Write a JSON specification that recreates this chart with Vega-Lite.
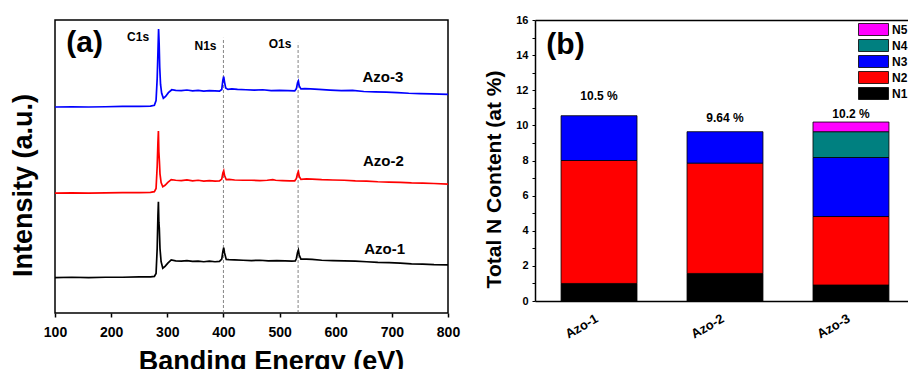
{
  "$schema": "https://vega.github.io/schema/vega-lite/v6.json",
  "padding": {"left": 8, "top": 14, "right": 0, "bottom": 0},
  "spacing": 22,
  "resolve": {"scale": {"color": "independent"}, "legend": {"color": "independent"}},
  "config": {
    "font": "Liberation Sans",
    "view": {"stroke": null},
    "axis": {"grid": false, "labelFontWeight": "bold", "titleFontWeight": "bold", "labelColor": "black", "titleColor": "black", "domainColor": "black", "tickColor": "black"}
  },
  "datasets": {
    "spectra": [
      {"e":100,"v":70.3,"s":"Azo-3"},{"e":130,"v":70.4,"s":"Azo-3"},{"e":160,"v":70.3,"s":"Azo-3"},{"e":190,"v":70.4,"s":"Azo-3"},{"e":220,"v":70.5,"s":"Azo-3"},{"e":250,"v":70.5,"s":"Azo-3"},{"e":270,"v":70.6,"s":"Azo-3"},{"e":277,"v":70.9,"s":"Azo-3"},{"e":280,"v":72.5,"s":"Azo-3"},{"e":282,"v":80,"s":"Azo-3"},{"e":283.5,"v":90,"s":"Azo-3"},{"e":284.5,"v":96.9,"s":"Azo-3"},{"e":285.5,"v":92,"s":"Azo-3"},{"e":286.5,"v":84,"s":"Azo-3"},{"e":288,"v":78,"s":"Azo-3"},{"e":290,"v":75,"s":"Azo-3"},{"e":293,"v":73.3,"s":"Azo-3"},{"e":297,"v":73.9,"s":"Azo-3"},{"e":302,"v":75.2,"s":"Azo-3"},{"e":308,"v":76.2,"s":"Azo-3"},{"e":315,"v":76.0,"s":"Azo-3"},{"e":325,"v":75.9,"s":"Azo-3"},{"e":335,"v":76.1,"s":"Azo-3"},{"e":345,"v":75.8,"s":"Azo-3"},{"e":355,"v":76.0,"s":"Azo-3"},{"e":365,"v":75.7,"s":"Azo-3"},{"e":375,"v":75.9,"s":"Azo-3"},{"e":385,"v":75.8,"s":"Azo-3"},{"e":393,"v":75.7,"s":"Azo-3"},{"e":397,"v":76.3,"s":"Azo-3"},{"e":399,"v":79.5,"s":"Azo-3"},{"e":400.5,"v":80.7,"s":"Azo-3"},{"e":402,"v":78.8,"s":"Azo-3"},{"e":404,"v":76.8,"s":"Azo-3"},{"e":408,"v":76.3,"s":"Azo-3"},{"e":415,"v":76.5,"s":"Azo-3"},{"e":425,"v":76.3,"s":"Azo-3"},{"e":440,"v":76.2,"s":"Azo-3"},{"e":455,"v":76.1,"s":"Azo-3"},{"e":470,"v":76.2,"s":"Azo-3"},{"e":485,"v":75.9,"s":"Azo-3"},{"e":500,"v":76.0,"s":"Azo-3"},{"e":515,"v":75.9,"s":"Azo-3"},{"e":527,"v":75.8,"s":"Azo-3"},{"e":530,"v":76.6,"s":"Azo-3"},{"e":532,"v":78.6,"s":"Azo-3"},{"e":533.5,"v":79.2,"s":"Azo-3"},{"e":535,"v":77.5,"s":"Azo-3"},{"e":538,"v":76.5,"s":"Azo-3"},{"e":545,"v":76.6,"s":"Azo-3"},{"e":555,"v":76.5,"s":"Azo-3"},{"e":570,"v":76.3,"s":"Azo-3"},{"e":590,"v":76.1,"s":"Azo-3"},{"e":610,"v":75.9,"s":"Azo-3"},{"e":630,"v":76.0,"s":"Azo-3"},{"e":650,"v":75.6,"s":"Azo-3"},{"e":670,"v":75.5,"s":"Azo-3"},{"e":690,"v":75.4,"s":"Azo-3"},{"e":710,"v":75.2,"s":"Azo-3"},{"e":730,"v":75.0,"s":"Azo-3"},{"e":750,"v":74.9,"s":"Azo-3"},{"e":770,"v":74.8,"s":"Azo-3"},{"e":785,"v":74.7,"s":"Azo-3"},{"e":800,"v":74.6,"s":"Azo-3"},
      {"e":100,"v":40.9,"s":"Azo-2"},{"e":130,"v":41.0,"s":"Azo-2"},{"e":160,"v":40.9,"s":"Azo-2"},{"e":190,"v":41.0,"s":"Azo-2"},{"e":220,"v":41.1,"s":"Azo-2"},{"e":250,"v":41.1,"s":"Azo-2"},{"e":270,"v":41.2,"s":"Azo-2"},{"e":277,"v":41.4,"s":"Azo-2"},{"e":280,"v":42.5,"s":"Azo-2"},{"e":282,"v":50,"s":"Azo-2"},{"e":283.3,"v":58,"s":"Azo-2"},{"e":284.2,"v":62.1,"s":"Azo-2"},{"e":285,"v":55,"s":"Azo-2"},{"e":286,"v":51.6,"s":"Azo-2"},{"e":287,"v":47.5,"s":"Azo-2"},{"e":289,"v":44.5,"s":"Azo-2"},{"e":292,"v":43.1,"s":"Azo-2"},{"e":296,"v":43.6,"s":"Azo-2"},{"e":301,"v":44.6,"s":"Azo-2"},{"e":307,"v":45.5,"s":"Azo-2"},{"e":315,"v":45.3,"s":"Azo-2"},{"e":325,"v":45.2,"s":"Azo-2"},{"e":335,"v":45.4,"s":"Azo-2"},{"e":345,"v":45.1,"s":"Azo-2"},{"e":355,"v":45.3,"s":"Azo-2"},{"e":365,"v":45.0,"s":"Azo-2"},{"e":375,"v":45.2,"s":"Azo-2"},{"e":385,"v":45.0,"s":"Azo-2"},{"e":393,"v":45.1,"s":"Azo-2"},{"e":397,"v":45.7,"s":"Azo-2"},{"e":399,"v":47.8,"s":"Azo-2"},{"e":400.5,"v":48.5,"s":"Azo-2"},{"e":402,"v":46.9,"s":"Azo-2"},{"e":405,"v":45.5,"s":"Azo-2"},{"e":410,"v":45.6,"s":"Azo-2"},{"e":420,"v":45.4,"s":"Azo-2"},{"e":435,"v":45.3,"s":"Azo-2"},{"e":450,"v":45.3,"s":"Azo-2"},{"e":465,"v":45.2,"s":"Azo-2"},{"e":478,"v":45.3,"s":"Azo-2"},{"e":488,"v":45.5,"s":"Azo-2"},{"e":493,"v":45.3,"s":"Azo-2"},{"e":505,"v":45.2,"s":"Azo-2"},{"e":518,"v":45.1,"s":"Azo-2"},{"e":527,"v":45.1,"s":"Azo-2"},{"e":530,"v":45.9,"s":"Azo-2"},{"e":532,"v":47.6,"s":"Azo-2"},{"e":533.5,"v":48.2,"s":"Azo-2"},{"e":535,"v":46.6,"s":"Azo-2"},{"e":538,"v":45.6,"s":"Azo-2"},{"e":548,"v":45.8,"s":"Azo-2"},{"e":558,"v":45.7,"s":"Azo-2"},{"e":575,"v":45.5,"s":"Azo-2"},{"e":595,"v":45.4,"s":"Azo-2"},{"e":615,"v":45.3,"s":"Azo-2"},{"e":635,"v":45.1,"s":"Azo-2"},{"e":655,"v":45.0,"s":"Azo-2"},{"e":675,"v":44.8,"s":"Azo-2"},{"e":695,"v":44.7,"s":"Azo-2"},{"e":715,"v":44.6,"s":"Azo-2"},{"e":735,"v":44.4,"s":"Azo-2"},{"e":755,"v":44.3,"s":"Azo-2"},{"e":775,"v":44.2,"s":"Azo-2"},{"e":800,"v":44.0,"s":"Azo-2"},
      {"e":100,"v":12.1,"s":"Azo-1"},{"e":130,"v":12.2,"s":"Azo-1"},{"e":160,"v":12.1,"s":"Azo-1"},{"e":190,"v":12.2,"s":"Azo-1"},{"e":220,"v":12.2,"s":"Azo-1"},{"e":250,"v":12.3,"s":"Azo-1"},{"e":270,"v":12.3,"s":"Azo-1"},{"e":277,"v":12.5,"s":"Azo-1"},{"e":280,"v":13.5,"s":"Azo-1"},{"e":282,"v":22,"s":"Azo-1"},{"e":283.3,"v":33,"s":"Azo-1"},{"e":284.2,"v":38.0,"s":"Azo-1"},{"e":285,"v":31,"s":"Azo-1"},{"e":285.8,"v":28.9,"s":"Azo-1"},{"e":287,"v":22,"s":"Azo-1"},{"e":289,"v":17.5,"s":"Azo-1"},{"e":292,"v":15.3,"s":"Azo-1"},{"e":296,"v":15.9,"s":"Azo-1"},{"e":301,"v":17.0,"s":"Azo-1"},{"e":307,"v":18.1,"s":"Azo-1"},{"e":315,"v":17.8,"s":"Azo-1"},{"e":325,"v":17.7,"s":"Azo-1"},{"e":335,"v":17.9,"s":"Azo-1"},{"e":345,"v":17.6,"s":"Azo-1"},{"e":355,"v":17.7,"s":"Azo-1"},{"e":365,"v":17.5,"s":"Azo-1"},{"e":375,"v":17.7,"s":"Azo-1"},{"e":385,"v":17.5,"s":"Azo-1"},{"e":393,"v":17.6,"s":"Azo-1"},{"e":397,"v":18.4,"s":"Azo-1"},{"e":399,"v":21.0,"s":"Azo-1"},{"e":400.5,"v":22.3,"s":"Azo-1"},{"e":402,"v":20.5,"s":"Azo-1"},{"e":405,"v":18.3,"s":"Azo-1"},{"e":410,"v":18.2,"s":"Azo-1"},{"e":420,"v":18.1,"s":"Azo-1"},{"e":435,"v":18.0,"s":"Azo-1"},{"e":450,"v":17.9,"s":"Azo-1"},{"e":465,"v":18.0,"s":"Azo-1"},{"e":480,"v":17.8,"s":"Azo-1"},{"e":495,"v":17.9,"s":"Azo-1"},{"e":510,"v":17.8,"s":"Azo-1"},{"e":522,"v":17.7,"s":"Azo-1"},{"e":528,"v":17.8,"s":"Azo-1"},{"e":530,"v":18.6,"s":"Azo-1"},{"e":532,"v":20.7,"s":"Azo-1"},{"e":533.5,"v":21.5,"s":"Azo-1"},{"e":535,"v":19.8,"s":"Azo-1"},{"e":538,"v":18.4,"s":"Azo-1"},{"e":548,"v":18.4,"s":"Azo-1"},{"e":558,"v":18.3,"s":"Azo-1"},{"e":575,"v":18.0,"s":"Azo-1"},{"e":595,"v":17.9,"s":"Azo-1"},{"e":615,"v":17.8,"s":"Azo-1"},{"e":635,"v":17.7,"s":"Azo-1"},{"e":655,"v":17.5,"s":"Azo-1"},{"e":675,"v":17.3,"s":"Azo-1"},{"e":695,"v":17.2,"s":"Azo-1"},{"e":715,"v":17.0,"s":"Azo-1"},{"e":735,"v":16.8,"s":"Azo-1"},{"e":755,"v":16.7,"s":"Azo-1"},{"e":775,"v":16.5,"s":"Azo-1"},{"e":800,"v":16.4,"s":"Azo-1"}
    ],
    "refs": [
      {"e": 400, "v0": 0, "v1": 93.9},
      {"e": 533, "v0": 0, "v1": 92.2}
    ],
    "peaks": [
      {"e": 248, "v": 94.2, "t": "C1s"},
      {"e": 368, "v": 91.1, "t": "N1s"},
      {"e": 501, "v": 91.8, "t": "O1s"}
    ],
    "names": [
      {"e": 684, "v": 80.5, "t": "Azo-3"},
      {"e": 685, "v": 51.9, "t": "Azo-2"},
      {"e": 687, "v": 21.8, "t": "Azo-1"}
    ],
    "panelA": [{"e": 152.6, "v": 91, "t": "(a)"}],
    "bars": [
      {"sample": "Azo-1", "type": "N1", "value": 1.0},
      {"sample": "Azo-1", "type": "N2", "value": 7.0},
      {"sample": "Azo-1", "type": "N3", "value": 2.55},
      {"sample": "Azo-2", "type": "N1", "value": 1.57},
      {"sample": "Azo-2", "type": "N2", "value": 6.28},
      {"sample": "Azo-2", "type": "N3", "value": 1.79},
      {"sample": "Azo-3", "type": "N1", "value": 0.91},
      {"sample": "Azo-3", "type": "N2", "value": 3.9},
      {"sample": "Azo-3", "type": "N3", "value": 3.36},
      {"sample": "Azo-3", "type": "N4", "value": 1.47},
      {"sample": "Azo-3", "type": "N5", "value": 0.55}
    ],
    "totals": [
      {"sample": "Azo-1", "pos": 11.7, "t": "10.5 %"},
      {"sample": "Azo-2", "pos": 10.4, "t": "9.64 %"},
      {"sample": "Azo-3", "pos": 10.64, "t": "10.2 %"}
    ],
    "panelB": [{"sample": "Azo-1", "pos": 14.6, "t": "(b)"}]
  },
  "hconcat": [
    {
      "width": 393,
      "height": 293,
      "view": {"stroke": "black", "strokeWidth": 1.5},
      "layer": [
        {
          "data": {"name": "refs"},
          "mark": {"type": "rule", "color": "#666666", "strokeWidth": 0.8, "strokeDash": [3, 2]},
          "encoding": {
            "x": {"field": "e", "type": "quantitative", "scale": {"domain": [100, 800], "nice": false}},
            "y": {"field": "v0", "type": "quantitative", "scale": {"domain": [0, 100], "nice": false}},
            "y2": {"field": "v1"}
          }
        },
        {
          "data": {"name": "spectra"},
          "mark": {"type": "line", "strokeWidth": 1.7},
          "encoding": {
            "x": {"field": "e", "type": "quantitative", "scale": {"domain": [100, 800], "nice": false},
              "axis": {"values": [100,150,200,250,300,350,400,450,500,550,600,650,700,750,800], "labelExpr": "datum.value % 100 === 0 ? datum.label : ''", "labelOverlap": false, "labelFlush": false, "labelFontSize": 14, "tickSize": 4, "tickWidth": 1.5, "labelPadding": 8, "domain": false, "title": "Banding Energy (eV)", "titleFontSize": 27, "titlePadding": 9, "titleX": 216}},
            "y": {"field": "v", "type": "quantitative", "scale": {"domain": [0, 100], "nice": false},
              "axis": {"labels": false, "ticks": false, "domain": false, "title": "Intensity (a.u.)", "titleFontSize": 27, "titlePadding": 18, "titleY": 165}},
            "color": {"field": "s", "type": "nominal", "scale": {"domain": ["Azo-1", "Azo-2", "Azo-3"], "range": ["#000000", "#ff0000", "#0000ff"]}, "legend": null},
            "order": {"field": "e", "type": "quantitative"}
          }
        },
        {
          "data": {"name": "peaks"},
          "mark": {"type": "text", "fontWeight": "bold", "fontSize": 12, "color": "black"},
          "encoding": {
            "x": {"field": "e", "type": "quantitative"},
            "y": {"field": "v", "type": "quantitative"},
            "text": {"field": "t"}
          }
        },
        {
          "data": {"name": "names"},
          "mark": {"type": "text", "fontWeight": "bold", "fontSize": 15, "color": "black"},
          "encoding": {
            "x": {"field": "e", "type": "quantitative"},
            "y": {"field": "v", "type": "quantitative"},
            "text": {"field": "t"}
          }
        },
        {
          "data": {"name": "panelA"},
          "mark": {"type": "text", "fontWeight": "bold", "fontSize": 30, "color": "black", "dy": -3},
          "encoding": {
            "x": {"field": "e", "type": "quantitative"},
            "y": {"field": "v", "type": "quantitative"},
            "text": {"field": "t"}
          }
        }
      ]
    },
    {
      "width": 374,
      "height": 281,
      "resolve": {"axis": {"x": "independent", "y": "independent"}},
      "layer": [
        {
          "data": {"name": "bars"},
          "mark": {"type": "bar", "stroke": "black", "strokeWidth": 0.8},
          "encoding": {
            "x": {"field": "sample", "type": "nominal", "scale": {"paddingInner": 0.397, "paddingOuter": 0.183, "align": 0.565},
              "axis": {"orient": "bottom", "labelAngle": -30, "labelFontSize": 13, "labelOffset": -5, "ticks": false, "labelPadding": 11, "domain": true, "domainWidth": 1.5, "title": null}},
            "y": {"field": "value", "type": "quantitative", "stack": "zero", "scale": {"domain": [0, 16], "nice": false},
              "axis": {"orient": "left", "values": [0,1,2,3,4,5,6,7,8,9,10,11,12,13,14,15,16], "labelExpr": "datum.value % 2 === 0 ? datum.label : ''", "labelOverlap": false, "ticks": true, "tickSize": 3, "labelFontSize": 11, "labelPadding": 4, "domain": true, "domainWidth": 1.5, "title": "Total N Content (at %)", "titleFontSize": 21, "titlePadding": 11, "titleY": 159}},
            "color": {"field": "type", "type": "nominal",
              "scale": {"domain": ["N5", "N4", "N3", "N2", "N1"], "range": ["#ff00ff", "#008080", "#0000ff", "#ff0000", "#000000"]},
              "legend": {"title": null, "orient": "none", "legendX": 323, "legendY": 3, "symbolType": "M-1,-1H4V1H-1Z", "symbolSize": 144, "symbolStrokeColor": "black", "symbolStrokeWidth": 0.8, "symbolOpacity": 1, "labelFontSize": 12, "labelFontWeight": "bold", "labelOffset": 21, "rowPadding": -1, "labelColor": "black"}},
            "order": {"field": "type", "sort": "ascending"}
          }
        },
        {
          "data": {"name": "totals"},
          "mark": {"type": "text", "fontWeight": "bold", "fontSize": 12, "color": "black"},
          "encoding": {
            "x": {"field": "sample", "type": "nominal", "axis": {"orient": "top", "labels": false, "ticks": false, "domain": true, "domainWidth": 1.5, "title": null}},
            "y": {"field": "pos", "type": "quantitative", "axis": null},
            "text": {"field": "t"}
          }
        },
        {
          "data": {"name": "panelB"},
          "mark": {"type": "text", "fontWeight": "bold", "fontSize": 30, "color": "black", "dx": -33.5},
          "encoding": {
            "x": {"field": "sample", "type": "nominal", "axis": null},
            "y": {"field": "pos", "type": "quantitative", "axis": null},
            "text": {"field": "t"}
          }
        }
      ]
    }
  ]
}
